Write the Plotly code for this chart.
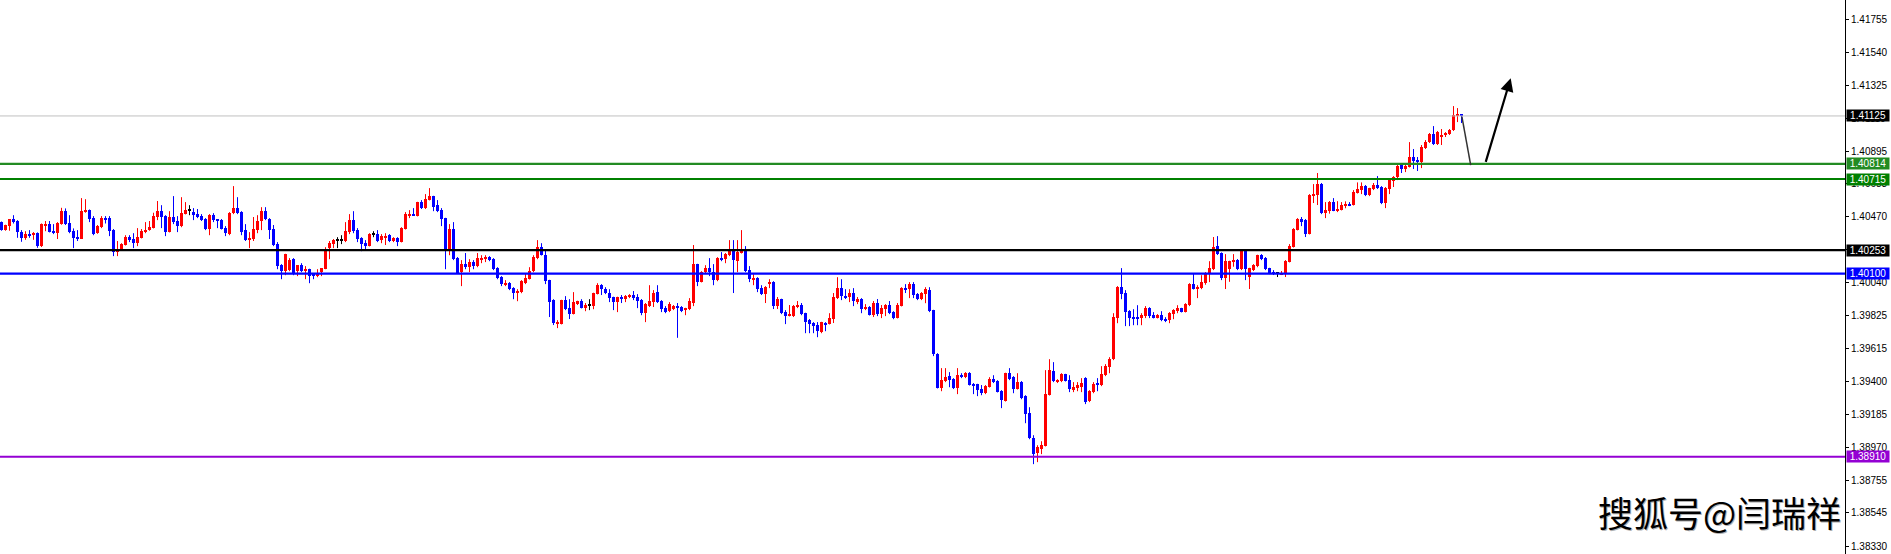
import plotly.graph_objects as go

# ---------------- data ----------------
open_ = [
    1.40435, 1.40383, 1.40411, 1.40455, 1.40442, 1.40370, 1.40333, 1.40357, 1.40353, 1.40363,
    1.40277, 1.40416, 1.40422, 1.40376, 1.40363, 1.40422, 1.40506, 1.40428, 1.40376, 1.40337,
    1.40325, 1.40500, 1.40513, 1.40461, 1.40363, 1.40402, 1.40461, 1.40461, 1.40383, 1.40242,
    1.40253, 1.40286, 1.40337, 1.40325, 1.40298, 1.40331, 1.40370, 1.40383, 1.40396, 1.40468,
    1.40506, 1.40474, 1.40370, 1.40468, 1.40442, 1.40409, 1.40487, 1.40513, 1.40500, 1.40487,
    1.40474, 1.40455, 1.40390, 1.40480, 1.40450, 1.40448, 1.40396, 1.40357, 1.40493, 1.40526,
    1.40500, 1.40383, 1.40318, 1.40325, 1.40383, 1.40442, 1.40506, 1.40455, 1.40390, 1.40292,
    1.40155, 1.40116, 1.40123, 1.40194, 1.40116, 1.40155, 1.40116, 1.40129, 1.40103, 1.40084,
    1.40110, 1.40129, 1.40266, 1.40292, 1.40318, 1.40318, 1.40312, 1.40370, 1.40448, 1.40383,
    1.40331, 1.40298, 1.40279, 1.40357, 1.40357, 1.40318, 1.40337, 1.40350, 1.40312, 1.40331,
    1.40305, 1.40390, 1.40480, 1.40487, 1.40474, 1.40565, 1.40526, 1.40578, 1.40604, 1.40545,
    1.40513, 1.40461, 1.40260, 1.40390, 1.40201, 1.40110, 1.40162, 1.40142, 1.40175, 1.40149,
    1.40188, 1.40201, 1.40208, 1.40194, 1.40136, 1.40077, 1.40032, 1.40038, 1.40006, 1.39973,
    1.39980, 1.40038, 1.40064, 1.40116, 1.40201, 1.40272, 1.40220, 1.40058, 1.39928, 1.39772,
    1.39772, 1.39928, 1.39876, 1.39837, 1.39902, 1.39921, 1.39876, 1.39896, 1.39889, 1.39967,
    1.40025, 1.39999, 1.39973, 1.39947, 1.39915, 1.39948, 1.39935, 1.39948, 1.39961, 1.39948,
    1.39928, 1.39843, 1.39889, 1.39915, 1.39980, 1.39922, 1.39876, 1.39856, 1.39870, 1.39889,
    1.39883, 1.39863, 1.39870, 1.39909, 1.40162, 1.40045, 1.40110, 1.40136, 1.40110, 1.40058,
    1.40201, 1.40194, 1.40221, 1.40253, 1.40181, 1.40234, 1.40260, 1.40123, 1.40064, 1.40071,
    1.40006, 1.39967, 1.40038, 1.40045, 1.39889, 1.39935, 1.39850, 1.39824, 1.39824, 1.39883,
    1.39896, 1.39843, 1.39798, 1.39779, 1.39765, 1.39720, 1.39779, 1.39772, 1.39804, 1.39941,
    1.40006, 1.39954, 1.39948, 1.39974, 1.39915, 1.39935, 1.39876, 1.39883, 1.39830, 1.39909,
    1.39837, 1.39870, 1.39896, 1.39850, 1.39811, 1.39889, 1.40006, 1.39999, 1.40032, 1.39967,
    1.39935, 1.39967, 1.39993, 1.39863, 1.39577, 1.39356, 1.39402, 1.39434, 1.39414, 1.39356,
    1.39440, 1.39427, 1.39453, 1.39382, 1.39382, 1.39350, 1.39323, 1.39362, 1.39414, 1.39402,
    1.39336, 1.39271, 1.39453, 1.39427, 1.39350, 1.39395, 1.39304, 1.39194, 1.39031, 1.38933,
    1.38959, 1.38979, 1.39310, 1.39466, 1.39395, 1.39402, 1.39447, 1.39408, 1.39350, 1.39356,
    1.39362, 1.39421, 1.39271, 1.39330, 1.39389, 1.39376, 1.39440, 1.39492, 1.39544, 1.39811,
    1.40012, 1.39973, 1.39856, 1.39817, 1.39817, 1.39811, 1.39824, 1.39876, 1.39830, 1.39811,
    1.39830, 1.39804, 1.39798, 1.39837, 1.39856, 1.39876, 1.39850, 1.39896, 1.40032, 1.40000,
    1.40006, 1.40038, 1.40103, 1.40129, 1.40279, 1.40233, 1.40073, 1.40130, 1.40175, 1.40188,
    1.40130, 1.40247, 1.40080, 1.40123, 1.40149, 1.40220, 1.40201, 1.40136, 1.40110, 1.40104,
    1.40095, 1.40104, 1.40175, 1.40273, 1.40383, 1.40455, 1.40448, 1.40357, 1.40604, 1.40611,
    1.40682, 1.40494, 1.40510, 1.40565, 1.40507, 1.40513, 1.40539, 1.40552, 1.40546, 1.40624,
    1.40643, 1.40669, 1.40611, 1.40650, 1.40676, 1.40663, 1.40559, 1.40650, 1.40702, 1.40728,
    1.40806, 1.40780, 1.40793, 1.40858, 1.40838, 1.40825, 1.40916, 1.40955, 1.41007, 1.40942,
    1.40988, 1.41001, 1.41007, 1.41033, 1.41126, 1.41131,
]

high = [
    1.40439, 1.40418, 1.40455, 1.40480, 1.40448, 1.40383, 1.40376, 1.40383, 1.40370, 1.40368,
    1.40426, 1.40442, 1.40442, 1.40422, 1.40435, 1.40528, 1.40524, 1.40480, 1.40394, 1.40383,
    1.40591, 1.40584, 1.40517, 1.40474, 1.40416, 1.40474, 1.40474, 1.40474, 1.40390, 1.40312,
    1.40298, 1.40350, 1.40350, 1.40363, 1.40396, 1.40390, 1.40435, 1.40442, 1.40496, 1.40572,
    1.40545, 1.40480, 1.40506, 1.40604, 1.40474, 1.40597, 1.40565, 1.40545, 1.40526, 1.40520,
    1.40487, 1.40461, 1.40487, 1.40493, 1.40455, 1.40455, 1.40409, 1.40500, 1.40669, 1.40597,
    1.40506, 1.40422, 1.40370, 1.40468, 1.40480, 1.40532, 1.40532, 1.40461, 1.40416, 1.40305,
    1.40162, 1.40229, 1.40201, 1.40201, 1.40155, 1.40168, 1.40149, 1.40132, 1.40103, 1.40129,
    1.40136, 1.40272, 1.40312, 1.40325, 1.40337, 1.40350, 1.40435, 1.40487, 1.40506, 1.40396,
    1.40337, 1.40318, 1.40363, 1.40376, 1.40383, 1.40357, 1.40363, 1.40357, 1.40337, 1.40337,
    1.40402, 1.40500, 1.40513, 1.40526, 1.40567, 1.40578, 1.40617, 1.40656, 1.40606, 1.40578,
    1.40526, 1.40463, 1.40422, 1.40435, 1.40208, 1.40188, 1.40234, 1.40194, 1.40188, 1.40234,
    1.40220, 1.40220, 1.40214, 1.40201, 1.40142, 1.40084, 1.40058, 1.40045, 1.40012, 1.39999,
    1.40058, 1.40103, 1.40142, 1.40220, 1.40318, 1.40298, 1.40260, 1.40060, 1.39934, 1.39798,
    1.39930, 1.39954, 1.39934, 1.39980, 1.39924, 1.39934, 1.39909, 1.39934, 1.39976, 1.40038,
    1.40032, 1.40012, 1.39999, 1.39950, 1.39950, 1.39961, 1.39961, 1.39967, 1.39987, 1.39967,
    1.39935, 1.39909, 1.40025, 1.39993, 1.40025, 1.39928, 1.39889, 1.39915, 1.39896, 1.39909,
    1.39889, 1.39878, 1.39941, 1.40286, 1.40164, 1.40116, 1.40155, 1.40201, 1.40162, 1.40207,
    1.40240, 1.40234, 1.40318, 1.40318, 1.40318, 1.40383, 1.40279, 1.40149, 1.40097, 1.40077,
    1.40025, 1.40019, 1.40064, 1.40051, 1.39948, 1.39937, 1.39863, 1.39896, 1.39896, 1.39922,
    1.39909, 1.39846, 1.39805, 1.39785, 1.39785, 1.39787, 1.39785, 1.39843, 1.39974, 1.40077,
    1.40064, 1.39999, 1.39999, 1.40006, 1.39948, 1.39941, 1.39902, 1.39889, 1.39922, 1.39935,
    1.39896, 1.39902, 1.39922, 1.39856, 1.39909, 1.40012, 1.40032, 1.40045, 1.40045, 1.39974,
    1.39980, 1.40012, 1.40012, 1.39865, 1.39583, 1.39486, 1.39486, 1.39460, 1.39421, 1.39486,
    1.39453, 1.39460, 1.39460, 1.39389, 1.39384, 1.39376, 1.39376, 1.39427, 1.39440, 1.39408,
    1.39343, 1.39456, 1.39486, 1.39434, 1.39453, 1.39402, 1.39310, 1.39232, 1.39050, 1.38985,
    1.39011, 1.39473, 1.39544, 1.39525, 1.39414, 1.39453, 1.39449, 1.39440, 1.39395, 1.39395,
    1.39421, 1.39427, 1.39343, 1.39395, 1.39421, 1.39499, 1.39512, 1.39557, 1.39843, 1.40019,
    1.40136, 1.39993, 1.39863, 1.39869, 1.39895, 1.39843, 1.39889, 1.39882, 1.39850, 1.39837,
    1.39856, 1.39817, 1.39850, 1.39869, 1.39895, 1.39878, 1.39908, 1.40038, 1.40103, 1.40025,
    1.40090, 1.40110, 1.40181, 1.40338, 1.40344, 1.40238, 1.40227, 1.40184, 1.40227, 1.40195,
    1.40253, 1.40253, 1.40138, 1.40162, 1.40223, 1.40227, 1.40208, 1.40138, 1.40123, 1.40110,
    1.40117, 1.40188, 1.40292, 1.40396, 1.40461, 1.40468, 1.40455, 1.40617, 1.40682, 1.40754,
    1.40689, 1.40565, 1.40572, 1.40591, 1.40571, 1.40565, 1.40570, 1.40565, 1.40643, 1.40693,
    1.40693, 1.40676, 1.40658, 1.40689, 1.40734, 1.40669, 1.40663, 1.40715, 1.40734, 1.40806,
    1.40812, 1.40806, 1.40955, 1.40910, 1.40858, 1.40936, 1.40968, 1.41014, 1.41059, 1.41027,
    1.41040, 1.41020, 1.41040, 1.41189, 1.41176, 1.41131,
]

low = [
    1.40379, 1.40379, 1.40379, 1.40426, 1.40333, 1.40307, 1.40320, 1.40333, 1.40320, 1.40268,
    1.40273, 1.40376, 1.40368, 1.40357, 1.40325, 1.40418, 1.40416, 1.40363, 1.40266, 1.40312,
    1.40325, 1.40496, 1.40435, 1.40350, 1.40359, 1.40396, 1.40426, 1.40344, 1.40214, 1.40214,
    1.40249, 1.40283, 1.40305, 1.40266, 1.40279, 1.40329, 1.40363, 1.40379, 1.40394, 1.40448,
    1.40396, 1.40344, 1.40368, 1.40422, 1.40370, 1.40402, 1.40485, 1.40480, 1.40448, 1.40461,
    1.40442, 1.40383, 1.40350, 1.40435, 1.40396, 1.40387, 1.40344, 1.40350, 1.40487, 1.40487,
    1.40350, 1.40312, 1.40266, 1.40312, 1.40363, 1.40383, 1.40448, 1.40325, 1.40279, 1.40129,
    1.40064, 1.40090, 1.40116, 1.40090, 1.40084, 1.40110, 1.40064, 1.40038, 1.40064, 1.40077,
    1.40084, 1.40129, 1.40194, 1.40266, 1.40266, 1.40292, 1.40305, 1.40357, 1.40363, 1.40305,
    1.40246, 1.40260, 1.40277, 1.40337, 1.40305, 1.40298, 1.40286, 1.40305, 1.40305, 1.40279,
    1.40303, 1.40387, 1.40461, 1.40478, 1.40472, 1.40520, 1.40520, 1.40576, 1.40506, 1.40500,
    1.40409, 1.40129, 1.40220, 1.40188, 1.40101, 1.40019, 1.40129, 1.40110, 1.40129, 1.40142,
    1.40168, 1.40175, 1.40181, 1.40123, 1.40064, 1.40019, 1.40019, 1.39993, 1.39934, 1.39921,
    1.39973, 1.40032, 1.40062, 1.40110, 1.40194, 1.40218, 1.40032, 1.39818, 1.39766, 1.39746,
    1.39770, 1.39863, 1.39805, 1.39835, 1.39896, 1.39874, 1.39856, 1.39863, 1.39869, 1.39965,
    1.39961, 1.39967, 1.39915, 1.39863, 1.39850, 1.39909, 1.39915, 1.39941, 1.39928, 1.39876,
    1.39830, 1.39785, 1.39883, 1.39883, 1.39909, 1.39850, 1.39843, 1.39850, 1.39863, 1.39683,
    1.39850, 1.39830, 1.39863, 1.39889, 1.40019, 1.40043, 1.40103, 1.40084, 1.40025, 1.40051,
    1.40181, 1.40168, 1.40214, 1.39974, 1.40110, 1.40231, 1.40110, 1.40045, 1.40025, 1.39980,
    1.39961, 1.39909, 1.40006, 1.39870, 1.39870, 1.39837, 1.39772, 1.39822, 1.39818, 1.39876,
    1.39830, 1.39713, 1.39713, 1.39713, 1.39687, 1.39713, 1.39726, 1.39770, 1.39779, 1.39935,
    1.39928, 1.39935, 1.39915, 1.39889, 1.39902, 1.39843, 1.39863, 1.39828, 1.39818, 1.39824,
    1.39811, 1.39824, 1.39837, 1.39804, 1.39809, 1.39887, 1.39974, 1.39941, 1.39941, 1.39928,
    1.39928, 1.39908, 1.39850, 1.39564, 1.39354, 1.39336, 1.39395, 1.39362, 1.39350, 1.39317,
    1.39421, 1.39421, 1.39373, 1.39317, 1.39304, 1.39310, 1.39317, 1.39360, 1.39389, 1.39328,
    1.39226, 1.39269, 1.39408, 1.39323, 1.39347, 1.39284, 1.39128, 1.39024, 1.38862, 1.38875,
    1.38927, 1.38977, 1.39308, 1.39395, 1.39389, 1.39395, 1.39399, 1.39330, 1.39330, 1.39336,
    1.39330, 1.39252, 1.39265, 1.39323, 1.39336, 1.39369, 1.39434, 1.39453, 1.39538, 1.39778,
    1.39934, 1.39759, 1.39759, 1.39765, 1.39765, 1.39765, 1.39811, 1.39811, 1.39809, 1.39809,
    1.39791, 1.39785, 1.39778, 1.39804, 1.39843, 1.39848, 1.39848, 1.39889, 1.39997, 1.39941,
    1.39999, 1.40028, 1.40045, 1.40123, 1.40221, 1.40058, 1.40000, 1.40047, 1.40145, 1.40123,
    1.40123, 1.40058, 1.40000, 1.40117, 1.40142, 1.40188, 1.40123, 1.40097, 1.40091, 1.40078,
    1.40091, 1.40078, 1.40173, 1.40270, 1.40381, 1.40409, 1.40338, 1.40355, 1.40559, 1.40546,
    1.40487, 1.40461, 1.40490, 1.40506, 1.40500, 1.40511, 1.40525, 1.40539, 1.40543, 1.40621,
    1.40617, 1.40604, 1.40604, 1.40643, 1.40650, 1.40552, 1.40526, 1.40617, 1.40663, 1.40708,
    1.40754, 1.40760, 1.40790, 1.40780, 1.40767, 1.40786, 1.40910, 1.40949, 1.40936, 1.40936,
    1.40936, 1.40988, 1.41001, 1.41027, 1.41085, 1.41079,
]

close = [
    1.40383, 1.40413, 1.40455, 1.40435, 1.40370, 1.40333, 1.40357, 1.40344, 1.40363, 1.40281,
    1.40422, 1.40422, 1.40370, 1.40363, 1.40428, 1.40506, 1.40422, 1.40370, 1.40331, 1.40331,
    1.40506, 1.40513, 1.40455, 1.40357, 1.40409, 1.40461, 1.40448, 1.40376, 1.40242, 1.40253,
    1.40292, 1.40337, 1.40318, 1.40298, 1.40337, 1.40376, 1.40383, 1.40402, 1.40474, 1.40506,
    1.40468, 1.40370, 1.40468, 1.40435, 1.40409, 1.40493, 1.40513, 1.40513, 1.40480, 1.40468,
    1.40448, 1.40390, 1.40480, 1.40448, 1.40446, 1.40390, 1.40363, 1.40493, 1.40526, 1.40493,
    1.40370, 1.40318, 1.40331, 1.40390, 1.40442, 1.40506, 1.40455, 1.40383, 1.40286, 1.40149,
    1.40116, 1.40227, 1.40188, 1.40097, 1.40155, 1.40116, 1.40129, 1.40084, 1.40084, 1.40097,
    1.40136, 1.40253, 1.40298, 1.40318, 1.40318, 1.40318, 1.40376, 1.40448, 1.40376, 1.40325,
    1.40292, 1.40279, 1.40357, 1.40357, 1.40312, 1.40344, 1.40344, 1.40312, 1.40331, 1.40305,
    1.40396, 1.40487, 1.40487, 1.40480, 1.40565, 1.40526, 1.40584, 1.40604, 1.40532, 1.40506,
    1.40455, 1.40260, 1.40390, 1.40194, 1.40103, 1.40162, 1.40142, 1.40175, 1.40149, 1.40201,
    1.40201, 1.40208, 1.40188, 1.40129, 1.40071, 1.40032, 1.40038, 1.39999, 1.39973, 1.39986,
    1.40051, 1.40071, 1.40116, 1.40208, 1.40272, 1.40220, 1.40051, 1.39915, 1.39779, 1.39785,
    1.39928, 1.39869, 1.39837, 1.39915, 1.39921, 1.39876, 1.39896, 1.39896, 1.39973, 1.40025,
    1.39999, 1.39973, 1.39941, 1.39915, 1.39947, 1.39935, 1.39954, 1.39961, 1.39941, 1.39922,
    1.39843, 1.39902, 1.39922, 1.39973, 1.39915, 1.39870, 1.39850, 1.39902, 1.39889, 1.39876,
    1.39856, 1.39876, 1.39922, 1.40162, 1.40045, 1.40110, 1.40136, 1.40110, 1.40058, 1.40201,
    1.40188, 1.40227, 1.40253, 1.40188, 1.40240, 1.40260, 1.40116, 1.40064, 1.40071, 1.39999,
    1.39967, 1.40012, 1.40045, 1.39889, 1.39935, 1.39843, 1.39824, 1.39837, 1.39889, 1.39896,
    1.39837, 1.39785, 1.39772, 1.39759, 1.39726, 1.39785, 1.39765, 1.39811, 1.39948, 1.40006,
    1.39954, 1.39948, 1.39974, 1.39922, 1.39935, 1.39870, 1.39883, 1.39830, 1.39909, 1.39837,
    1.39876, 1.39896, 1.39843, 1.39811, 1.39896, 1.40006, 1.39993, 1.40032, 1.39961, 1.39935,
    1.39974, 1.39999, 1.39856, 1.39577, 1.39356, 1.39408, 1.39427, 1.39408, 1.39356, 1.39440,
    1.39427, 1.39453, 1.39376, 1.39376, 1.39343, 1.39323, 1.39369, 1.39414, 1.39395, 1.39330,
    1.39278, 1.39453, 1.39414, 1.39350, 1.39395, 1.39291, 1.39187, 1.39031, 1.38927, 1.38972,
    1.38985, 1.39317, 1.39473, 1.39402, 1.39408, 1.39447, 1.39402, 1.39350, 1.39362, 1.39376,
    1.39389, 1.39265, 1.39336, 1.39382, 1.39376, 1.39447, 1.39499, 1.39544, 1.39817, 1.40012,
    1.39967, 1.39850, 1.39811, 1.39811, 1.39811, 1.39830, 1.39876, 1.39824, 1.39811, 1.39830,
    1.39798, 1.39798, 1.39843, 1.39863, 1.39876, 1.39850, 1.39902, 1.40032, 1.39999, 1.40013,
    1.40045, 1.40100, 1.40136, 1.40272, 1.40227, 1.40071, 1.40181, 1.40182, 1.40188, 1.40130,
    1.40247, 1.40130, 1.40136, 1.40155, 1.40220, 1.40195, 1.40130, 1.40104, 1.40097, 1.40104,
    1.40104, 1.40182, 1.40279, 1.40390, 1.40455, 1.40435, 1.40357, 1.40611, 1.40617, 1.40682,
    1.40494, 1.40513, 1.40565, 1.40507, 1.40520, 1.40546, 1.40552, 1.40546, 1.40630, 1.40650,
    1.40669, 1.40611, 1.40656, 1.40676, 1.40656, 1.40559, 1.40656, 1.40708, 1.40728, 1.40799,
    1.40780, 1.40799, 1.40858, 1.40832, 1.40825, 1.40923, 1.40955, 1.41007, 1.40942, 1.41020,
    1.41001, 1.41014, 1.41033, 1.41131, 1.41131, 1.41125,
]

# horizontal price levels drawn on the chart
level_prices = [1.41125, 1.40814, 1.40715, 1.40253, 1.40100, 1.38910]
level_line_colors = ["#C0C0C0", "#228B22", "#008000", "#000000", "#0000FF", "#9400D3"]
level_label_colors = ["#000000", "#228B22", "#008000", "#000000", "#0000FF", "#9400D3"]
level_line_widths = [1, 2.2, 2.2, 2.2, 2.2, 2.2]

# price-axis tick labels
tick_values = [1.41755, 1.41540, 1.41325, 1.41110, 1.40895, 1.40683, 1.40470, 1.40255,
               1.40040, 1.39825, 1.39615, 1.39400, 1.39185, 1.38970, 1.38755, 1.38545, 1.38330]

# hand-drawn projection (bar index, price)
pullback_x = [365.1, 367.3]
pullback_y = [1.41120, 1.40806]
arrow_start = (370.95, 1.40817)
arrow_tip = (377.3, 1.41370)

watermark = "搜狐号@闫瑞祥"

# ---------------- figure ----------------
n = len(open_)
assert len(high) == n and len(low) == n and len(close) == n
xs = list(range(n))

W, H = 1891, 554
R_MARGIN = 46
plot_w = W - R_MARGIN
bar_px = 4.0
x_lo = -1.5 / bar_px
x_hi = x_lo + plot_w / bar_px
y_hi, y_lo = 1.418785, 1.38278
one_px = (y_hi - y_lo) / H

UP, DOWN, FLAT = "#FF0000", "#0000FF", "#000000"

colors, bases, heights = [], [], []
for o, c in zip(open_, close):
    col = UP if c > o else (DOWN if c < o else FLAT)
    colors.append(col)
    lo_b, hi_b = min(o, c), max(o, c)
    h = hi_b - lo_b
    if h < one_px:
        mid = (lo_b + hi_b) / 2
        lo_b = mid - one_px / 2
        h = one_px
    bases.append(lo_b)
    heights.append(h)

fig = go.Figure()

# wicks, grouped by colour
for col in (UP, DOWN, FLAT):
    wx, wy = [], []
    for i in range(n):
        if colors[i] == col:
            wx += [xs[i], xs[i], None]
            wy += [low[i], high[i], None]
    fig.add_trace(go.Scatter(x=wx, y=wy, mode="lines",
                             line=dict(color=col, width=1),
                             hoverinfo="skip", showlegend=False))

# bodies
fig.add_trace(go.Bar(x=xs, y=heights, base=bases, width=0.75,
                     marker=dict(color=colors, line=dict(width=0)),
                     hoverinfo="skip", showlegend=False))

shapes = []
annotations = []
for p, lc, bc, lw in zip(level_prices, level_line_colors, level_label_colors, level_line_widths):
    shapes.append(dict(type="line", xref="paper", x0=0, x1=1, yref="y", y0=p, y1=p,
                       line=dict(color=lc, width=lw), layer="above"))
    annotations.append(dict(xref="paper", x=1, xanchor="left", xshift=1,
                            yref="y", y=p, yanchor="middle",
                            text=f"{p:.5f}", showarrow=False,
                            bgcolor=bc, borderpad=0, width=42, height=11,
                            font=dict(family="Liberation Sans, Arial, sans-serif", size=10, color="#FFFFFF")))

# projection lines
shapes.append(dict(type="line", xref="x", yref="y",
                   x0=pullback_x[0], y0=pullback_y[0], x1=pullback_x[1], y1=pullback_y[1],
                   line=dict(color="#333333", width=1.5)))
annotations.append(dict(xref="x", yref="y", x=arrow_tip[0], y=arrow_tip[1],
                        axref="x", ayref="y", ax=arrow_start[0], ay=arrow_start[1],
                        text="", showarrow=True, arrowhead=2, arrowsize=1.2,
                        arrowwidth=2.2, arrowcolor="#000000"))

# watermark (soft grey shadow + black text)
wm_font = dict(family="Noto Sans CJK SC", size=35)
annotations.append(dict(xref="paper", yref="paper", x=1, y=43 / H, xanchor="right", yanchor="middle",
                        xshift=-1, yshift=-1, text=watermark, showarrow=False,
                        font=dict(color="#B0B0B0", **wm_font)))
annotations.append(dict(xref="paper", yref="paper", x=1, y=43 / H, xanchor="right", yanchor="middle",
                        xshift=-2, text=watermark, showarrow=False,
                        font=dict(color="#000000", **wm_font)))

fig.update_layout(
    width=W, height=H,
    margin=dict(l=0, r=R_MARGIN, t=0, b=0, pad=0),
    paper_bgcolor="#FFFFFF", plot_bgcolor="#FFFFFF",
    showlegend=False, bargap=0,
    shapes=shapes, annotations=annotations,
    xaxis=dict(range=[x_lo, x_hi], visible=False, fixedrange=True),
    yaxis=dict(range=[y_lo, y_hi], side="right", showgrid=False, zeroline=False,
               showline=True, linecolor="#000000", linewidth=1,
               ticks="outside", ticklen=3, tickcolor="#000000", tickwidth=1,
               tickvals=tick_values, ticktext=[f"{v:.5f}" for v in tick_values],
               tickfont=dict(family="Liberation Sans, Arial, sans-serif", size=10, color="#000000"),
               automargin=False, fixedrange=True),
)

fig.write_html(
    "out.html",
    config={"displayModeBar": False},
    post_script="document.body.style.margin='0px';document.body.style.padding='0px';"
                "document.body.style.overflow='hidden';",
)
